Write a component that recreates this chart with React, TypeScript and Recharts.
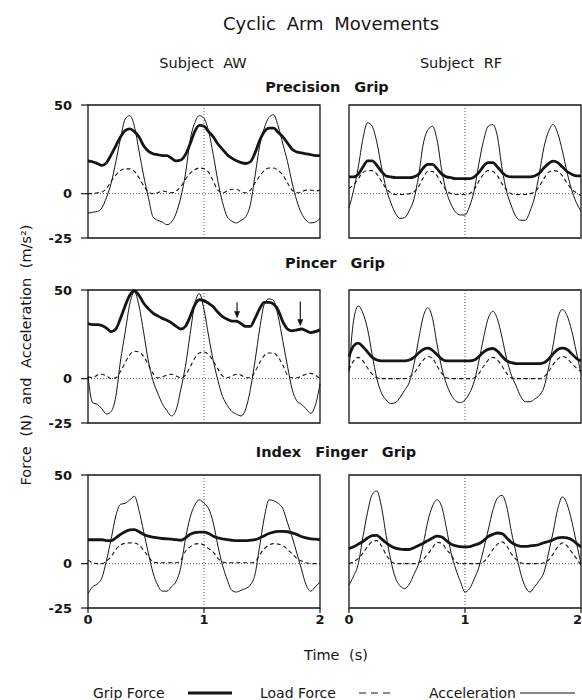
import { LineChart, Line, XAxis, YAxis, ReferenceLine, ReferenceArea } from 'recharts'

// time samples (s), shared by every panel
const TIME = [
  0, 0.04, 0.08, 0.12, 0.16, 0.2, 0.24, 0.28, 0.32, 0.36,
  0.4, 0.44, 0.48, 0.52, 0.56, 0.6, 0.64, 0.68, 0.72, 0.76,
  0.8, 0.84, 0.88, 0.92, 0.96, 1.0, 1.04, 1.08, 1.12, 1.16,
  1.2, 1.24, 1.28, 1.32, 1.36, 1.4, 1.44, 1.48, 1.52, 1.56,
  1.6, 1.64, 1.68, 1.72, 1.76, 1.8, 1.84, 1.88, 1.92, 1.96,
  2.0,
]
const X_TICKS = [0, 1, 2]
const Y_TICKS = [-25, 0, 50]

// Precision grip
const AW_PRECISION_GRIP = [
  18.5, 18, 17, 16, 17.5, 22, 27, 32, 35.5, 36.5,
  35, 32, 27, 24, 22.5, 22, 21.5, 21.5, 20, 18.5,
  19, 22, 28, 35, 38.5, 38, 35, 32, 28, 25,
  22, 20, 18.5, 17.5, 17, 18, 23, 30, 35, 37,
  37, 34.5, 32, 28.5, 25, 23.5, 23, 22.5, 22, 21.5,
  21.5,
]
const AW_PRECISION_LOAD = [
  0, 0, 0.5, 1, 3, 7, 10.5, 13, 14, 14,
  12.5, 9, 4.5, 1, 0, 0.5, 1.5, 1, 0.5, 1.5,
  4, 8, 11.5, 13.5, 14.5, 14, 12, 7, 2, 0.5,
  1.5, 2.5, 2.5, 1, 0.5, 2, 6, 10, 13, 14.5,
  14.5, 13, 10.5, 6, 2, 0.5, 1, 2, 2, 1.5,
  2,
]
const AW_PRECISION_ACCEL = [
  -11, -10.5, -10, -8, -2, 6, 18, 31, 42, 44,
  38, 24, 10, -2, -13, -15, -16, -17.5, -16, -11,
  -2, 11, 30, 40, 44, 42.5, 35, 22, 7, -5,
  -13, -15.5, -16.5, -15, -13, -6, 10, 27, 37, 43,
  44.5, 38, 28, 18, 6, -4, -11, -15, -16.5, -16,
  -14,
]
const RF_PRECISION_GRIP = [
  9.5, 9.5, 11, 15, 18.5, 18.5, 16, 12.5, 10, 9.5,
  9, 9, 9, 9, 9.5, 11, 14.5, 16.5, 16.5, 14,
  11, 9.5, 9, 8.5, 8.5, 8.5, 8.5, 9.5, 12, 15.5,
  17.5, 17.5, 15, 12, 10, 9.5, 9.5, 9.5, 9.5, 9.5,
  10, 11.5, 14.5, 17, 18.3, 17.5, 15, 12.5, 11, 10,
  10,
]
const RF_PRECISION_LOAD = [
  3, 5, 8.5, 12, 13, 13, 11, 7, 3, 0.5,
  -0.5, -0.5, -0.5, 0, 1, 4, 9, 12.5, 12.5, 10,
  5.5, 2, 0, -0.5, -0.5, -0.5, 0, 2.5, 7, 11,
  13, 12.5, 10, 5.5, 2, 0, -0.5, -0.5, -0.5, 0,
  1, 4, 8.5, 12, 13, 12.5, 10, 6, 2.5, 0.5,
  -1,
]
const RF_PRECISION_ACCEL = [
  -8, 2, 15, 31, 40, 38, 29, 15, 3, -5,
  -11, -14, -13.5, -9.5, -3, 10, 28, 36, 38, 30,
  13, 1, -6, -10.5, -12, -12, -7, 2, 17, 30,
  38, 39, 32, 14, 1, -7, -13, -15, -15, -10,
  -2, 11, 26, 35, 39, 34, 24, 12, 2, -5,
  -10,
]

// Pincer grip
const AW_PINCER_GRIP = [
  31, 30.5, 30.5, 30, 28.5, 26.5, 28, 34, 41, 47,
  49.5, 47, 42.5, 39.5, 37, 35.5, 34, 33, 31.5, 29.5,
  28, 29.5, 35, 41.5, 44.5, 44, 42.5, 40.5, 37.5, 35,
  33.5, 32.5, 32.5, 31, 29.5, 29.5, 34, 39.5, 43, 43,
  42, 38.5, 32, 28, 27, 27.5, 28, 27, 26, 26.5,
  27.5,
]
const AW_PINCER_LOAD = [
  1, 0.5, 2, 2.5, 1.5, 0, 0.5, 4, 9, 13.5,
  15.5, 15, 12.5, 8, 3, 0.5, 1, 2, 2.5, 1.5,
  0.5, 2, 6.5, 11.5, 14.5, 15, 13.5, 10, 5.5, 1.5,
  0.5, 1.5, 2.5, 2, 0.5, 0.5, 4, 9, 13, 14.5,
  14.5, 12, 7.5, 2, 0.5, 0.5, 1.5, 2.5, 3, 2,
  0,
]
const AW_PINCER_ACCEL = [
  1, -13.5, -14.5, -17, -20, -18.5, -10, 10, 26, 42,
  49, 41, 26, 10, -1, -8, -14, -18, -21, -17.5,
  -6, 7, 25, 42, 48, 39, 24, 10, -1, -10,
  -15, -18.5, -20, -21, -17, -6, 10, 28, 42, 45,
  44, 35, 21, 7, -6, -12.5, -14.5, -17, -19.5, -15,
  -3,
]
const RF_PINCER_GRIP = [
  12.5, 18.5, 20, 18, 15, 12, 10.5, 10, 10, 10,
  10, 10, 10, 10.5, 12, 14.5, 16.5, 17.2, 16, 13.5,
  11, 10, 10, 10, 10, 10, 10, 10.5, 12.5, 15,
  16.5, 17, 15.5, 12.5, 10, 9, 8.5, 8.5, 8.5, 8.5,
  8.5, 8.5, 9, 11, 14, 16.5, 17.2, 16.5, 14, 11.5,
  10,
]
const RF_PINCER_LOAD = [
  5, 10, 12, 10, 6, 2.5, 0.5, 0, 0, 0,
  0, 0, 0, 1, 3, 7, 10.5, 12.5, 11.5, 7,
  3, 0.5, 0, 0, 0, 0, 0, 0.5, 3, 7,
  10.5, 12, 10.5, 7, 3, 0.5, 0, 0, 0, 0,
  0, 0, 1, 4, 8, 11, 12.5, 11.5, 8.5, 6,
  4,
]
const RF_PINCER_ACCEL = [
  4, 33, 41, 37, 28, 13.5, 0, -8, -12, -14,
  -13.5, -10.5, -6.5, -2, 8, 22, 35, 40, 34, 19,
  6, -3, -9, -12.5, -13.5, -12, -8, -1.5, 10, 23,
  34, 38, 33.5, 23, 11, 2, -4, -10, -13, -13,
  -11.5, -9.5, -5, 6, 19, 34, 39, 35.5, 27, 15,
  3,
]
// arrows marking grip-force dips, subject AW pincer grip: [time, from, to]
const AW_PINCER_ARROWS = [
  [1.285, 43, 34],
  [1.83, 43.5, 29.5],
]

// Index finger grip
const AW_INDEX_GRIP = [
  13.5, 13.5, 13.5, 13.5, 13, 13, 14.5, 16.5, 18, 19,
  19.2, 18, 16.5, 15.5, 15, 14.5, 14.2, 14, 13.8, 13.5,
  13.2, 14.5, 16.5, 17.5, 17.8, 17.8, 17, 15.5, 14.5, 14,
  13.5, 13.2, 13, 13, 13, 13.2, 13.5, 14.5, 15.8, 17,
  17.8, 18.2, 18.2, 18, 17.4, 16.5, 15.3, 14.5, 14, 13.8,
  13.5,
]
const AW_INDEX_LOAD = [
  2, 0.5, 0, 0, 1.5, 4, 8, 10.5, 11.5, 11.7,
  11.7, 10.5, 7.5, 4, 1, 0.5, 0.5, 0.5, 0.5, 0.5,
  2, 7, 9.5, 11, 11.3, 10.5, 8.5, 6.5, 3, 1,
  0.5, 0.5, 0.5, 0.5, 0.5, 0.5, 1, 5, 8.5, 10.5,
  11.3, 11, 10.2, 8, 5.5, 3, 1.5, 0.5, 0, 0,
  0,
]
const AW_INDEX_ACCEL = [
  -17, -13, -11.5, -8, 2, 14, 27, 33.5, 34, 36,
  38, 30, 18, 6, -5, -12, -15.5, -15.5, -13, -10,
  -2, 14, 26, 33, 36, 34, 31, 23, 10, -1,
  -9, -15, -16, -15, -14, -12, -6, 10, 26, 36,
  35.5, 34, 31, 23, 15, 6, -3, -12, -15.5, -13,
  -10.5,
]
const RF_INDEX_GRIP = [
  8.5, 9.5, 11, 12.5, 14.5, 15.8, 16, 14, 11.8, 10,
  8.8, 8.2, 8, 8, 9, 10.2, 11.5, 13, 14.5, 15.5,
  15, 13, 11, 10, 9.6, 9.4, 9.6, 10.5, 11.3, 13,
  15.3, 16.5, 17.3, 17, 14.5, 12, 10.5, 9.8, 9.8, 10,
  10.3, 10.8, 11.8, 12.5, 13.5, 14.5, 14.8, 14.5, 13.5, 11.5,
  9.5,
]
const RF_INDEX_LOAD = [
  0, 1, 3, 6, 9.5, 12.5, 13, 10, 5, 1.5,
  0, 0, 0, 0, 0, 0.5, 2.5, 5.5, 9, 12,
  11.5, 8, 5, 1, 0, 0, 0, 0, 0, 1,
  4, 8, 11, 12.3, 10, 5.5, 2.5, 0.5, 0, 0,
  0, 0, 0.5, 2, 5.5, 9.5, 11.7, 10, 6.5, 3,
  -1,
]
const RF_INDEX_ACCEL = [
  -12, -7, 0, 15, 29, 39, 41, 32, 16, 2,
  -8, -12.5, -14, -11.5, -6, 0, 11, 24, 32.5, 36,
  32, 20, 6, -3, -10, -16, -14, -8.5, -2, 8,
  19, 30, 37, 38.5, 32, 18, 6, -5.5, -13, -16,
  -13, -9.5, -5, 6, 18, 31, 37.7, 33.5, 24, 12,
  0,
]

const FONT = '"DejaVu Sans", Verdana, sans-serif'
const INK = '#151515'
const PLOT_W = 232
const PLOT_H = 133
const Y_W = 40
const VPAD = 10
const X_H = 26
const PAGE_W = 582

const tickStyle = { fontSize: 13, fill: INK, fontWeight: 600, fontFamily: FONT }

const ArrowShape = (props: any) => {
  const { x1, y1, x2, y2 } = props
  const top = Math.min(y1, y2)
  const tip = Math.max(y1, y2)
  return (
    <g>
      <line x1={x1} y1={top} x2={x2} y2={tip - 4} stroke={INK} strokeWidth={1.2} />
      <path d={`M${x2 - 3},${tip - 7} L${x2},${tip} L${x2 + 3},${tip - 7} Z`} fill={INK} />
    </g>
  )
}

// x tick that keeps the label inside the page when it sits on the right edge
const EdgeTick = ({ x, y, payload, pageX }: any) => {
  const nearEdge = pageX + x + 5 > PAGE_W
  return (
    <text x={nearEdge ? x + 1 : x} y={y} dy="0.71em" textAnchor={nearEdge ? 'end' : 'middle'} {...tickStyle}>
      {payload.value}
    </text>
  )
}

// padL / padR: room around the frame, so tick labels at the edges are not cut
function Panel({ grip, load, accel, left, top, showY, showX, padL, padR, arrows }: any) {
  const data = TIME.map((t, i) => ({ t, grip: grip[i], load: load[i], accel: accel[i] }))
  const lead = showY ? Y_W : padL
  const width = lead + PLOT_W + padR
  const height = VPAD + PLOT_H + (showX ? X_H : VPAD)
  const chartX = left - lead
  return (
    <div style={{ position: 'absolute', left: chartX, top: top - VPAD }}>
      <LineChart width={width} height={height} data={data}
        margin={{ top: VPAD, right: padR, bottom: showX ? 0 : VPAD, left: showY ? 0 : padL }}>
        <XAxis dataKey="t" type="number" domain={[0, 2]} ticks={X_TICKS} interval={0}
          hide={!showX} height={X_H} axisLine={false} tickSize={5} tickMargin={2}
          tickLine={{ stroke: INK, strokeWidth: 1.2 }} tick={<EdgeTick pageX={chartX} />} />
        <YAxis type="number" domain={[-25, 50]} ticks={Y_TICKS} interval={0}
          hide={!showY} width={Y_W} axisLine={false} tickSize={7} tickMargin={9}
          tickLine={{ stroke: INK, strokeWidth: 1.2 }} tick={tickStyle} />
        <ReferenceArea x1={0} x2={2} y1={-25} y2={50} fill="none" stroke={INK} strokeWidth={1.3} />
        <ReferenceLine x={1} stroke="#444" strokeWidth={0.9} strokeDasharray="1 2" />
        <ReferenceLine y={0} stroke="#444" strokeWidth={0.9} strokeDasharray="1 2" />
        <Line dataKey="accel" type="monotone" stroke={INK} strokeWidth={1} dot={false} isAnimationActive={false} />
        <Line dataKey="load" type="monotone" stroke={INK} strokeWidth={1.1} strokeDasharray="4 3" dot={false} isAnimationActive={false} />
        <Line dataKey="grip" type="monotone" stroke={INK} strokeWidth={2.8} dot={false} isAnimationActive={false} />
        {(arrows || []).map((a: number[], i: number) => (
          <ReferenceLine key={i} segment={[{ x: a[0], y: a[1] }, { x: a[0], y: a[2] }]} shape={ArrowShape} />
        ))}
      </LineChart>
    </div>
  )
}

const LEFT_X = 88
const RIGHT_X = 349
const ROW_Y = [105, 290, 475]

export default function App() {
  const L = { left: LEFT_X, showY: true, padL: 0, padR: 9 }
  const R = { left: RIGHT_X, showY: false, padL: 9, padR: 1 }
  return (
    <div style={{ position: 'absolute', left: 0, top: 0, width: PAGE_W, height: 700, overflow: 'hidden', background: '#fff', fontFamily: FONT, color: INK }}>
      <Panel {...L} grip={AW_PRECISION_GRIP} load={AW_PRECISION_LOAD} accel={AW_PRECISION_ACCEL} top={ROW_Y[0]} showX={false} />
      <Panel {...R} grip={RF_PRECISION_GRIP} load={RF_PRECISION_LOAD} accel={RF_PRECISION_ACCEL} top={ROW_Y[0]} showX={false} />
      <Panel {...L} grip={AW_PINCER_GRIP} load={AW_PINCER_LOAD} accel={AW_PINCER_ACCEL} top={ROW_Y[1]} showX={false} arrows={AW_PINCER_ARROWS} />
      <Panel {...R} grip={RF_PINCER_GRIP} load={RF_PINCER_LOAD} accel={RF_PINCER_ACCEL} top={ROW_Y[1]} showX={false} />
      <Panel {...L} grip={AW_INDEX_GRIP} load={AW_INDEX_LOAD} accel={AW_INDEX_ACCEL} top={ROW_Y[2]} showX />
      <Panel {...R} grip={RF_INDEX_GRIP} load={RF_INDEX_LOAD} accel={RF_INDEX_ACCEL} top={ROW_Y[2]} showX />

      <svg width={PAGE_W} height={700} style={{ position: 'absolute', left: 0, top: 0, pointerEvents: 'none' }}>
        <g fill={INK} textAnchor="middle" dominantBaseline="central" wordSpacing={5}>
          <text x={331} y={23} fontSize={18}>Cyclic Arm Movements</text>
          <text x={203} y={63} fontSize={14.5}>Subject AW</text>
          <text x={461} y={63} fontSize={14.5}>Subject RF</text>
          <text x={327} y={87} fontSize={14.5} fontWeight="bold" wordSpacing={9}>Precision Grip</text>
          <text x={335} y={263} fontSize={14.5} fontWeight="bold" wordSpacing={9}>Pincer Grip</text>
          <text x={336} y={452} fontSize={14.5} fontWeight="bold" wordSpacing={9}>Index Finger Grip</text>
          <text x={26} y={355} fontSize={14.5} transform="rotate(-90 26 355)">Force (N) and Acceleration (m/s²)</text>
          <text x={336} y={655} fontSize={14.5}>Time (s)</text>
        </g>
        <g fill={INK} dominantBaseline="central" fontSize={14}>
          <text x={93} y={693}>Grip Force</text>
          <text x={260} y={693}>Load Force</text>
          <text x={429} y={693}>Acceleration</text>
        </g>
        <line x1={188} y1={693} x2={232} y2={693} stroke={INK} strokeWidth={3} />
        <line x1={359} y1={693} x2={393} y2={693} stroke={INK} strokeWidth={1.2} strokeDasharray="7 5" />
        <line x1={520} y1={693} x2={575} y2={693} stroke={INK} strokeWidth={1.2} />
      </svg>
    </div>
  )
}
